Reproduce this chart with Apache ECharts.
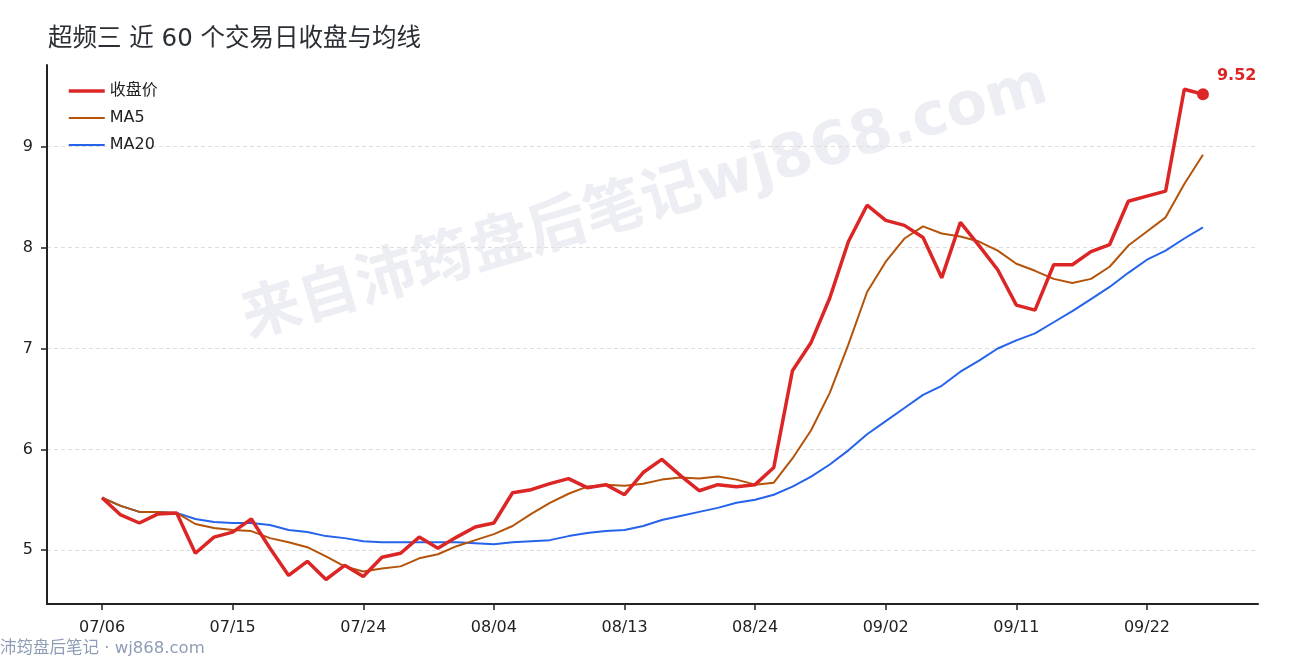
<!DOCTYPE html>
<html>
<head>
<meta charset="utf-8">
<title>超频三 近 60 个交易日收盘与均线</title>
<script src="https://cdn.jsdelivr.net/npm/echarts@6/dist/echarts.min.js"></script>
<style>
  html, body { margin: 0; padding: 0; background: #fff; }
  #chart { width: 1290px; height: 660px; }
</style>
</head>
<body>
<div id="chart"></div>
<script>
// 交易日 (2020)
var dates = [
  '07/06','07/07','07/08','07/09','07/10','07/13','07/14','07/15','07/16','07/17',
  '07/20','07/21','07/22','07/23','07/24','07/27','07/28','07/29','07/30','07/31',
  '08/03','08/04','08/05','08/06','08/07','08/10','08/11','08/12','08/13','08/14',
  '08/17','08/18','08/19','08/20','08/21','08/24','08/25','08/26','08/27','08/28',
  '08/31','09/01','09/02','09/03','09/04','09/07','09/08','09/09','09/10','09/11',
  '09/14','09/15','09/16','09/17','09/18','09/21','09/22','09/23','09/24','09/25'
]

var closePrice = [
  5.52, 5.35, 5.27, 5.36, 5.37, 4.97, 5.13, 5.18, 5.31, 5.02,
  4.75, 4.89, 4.71, 4.85, 4.74, 4.93, 4.97, 5.13, 5.02, 5.13,
  5.23, 5.27, 5.57, 5.60, 5.66, 5.71, 5.62, 5.65, 5.55, 5.77,
  5.90, 5.74, 5.59, 5.65, 5.63, 5.65, 5.82, 6.78, 7.06, 7.50,
  8.06, 8.42, 8.27, 8.22, 8.10, 7.70, 8.25, 8.02, 7.78, 7.43,
  7.38, 7.83, 7.83, 7.96, 8.03, 8.46, 8.51, 8.56, 9.57, 9.52
]

var ma5 = [
  5.52, 5.44, 5.38, 5.38, 5.37, 5.26, 5.22, 5.20, 5.19, 5.12,
  5.08, 5.03, 4.94, 4.84, 4.79, 4.82, 4.84, 4.92, 4.96, 5.04,
  5.10, 5.16, 5.24, 5.36, 5.47, 5.56, 5.63, 5.65, 5.64, 5.66,
  5.70, 5.72, 5.71, 5.73, 5.70, 5.65, 5.67, 5.91, 6.19, 6.56,
  7.04, 7.56, 7.86, 8.09, 8.21, 8.14, 8.11, 8.06, 7.97, 7.84,
  7.77, 7.69, 7.65, 7.69, 7.81, 8.02, 8.16, 8.30, 8.63, 8.92
]

var ma20 = [
  5.52, 5.44, 5.38, 5.38, 5.37, 5.31, 5.28, 5.27, 5.27, 5.25,
  5.20, 5.18, 5.14, 5.12, 5.09, 5.08, 5.08, 5.08, 5.08, 5.08,
  5.07, 5.06, 5.08, 5.09, 5.10, 5.14, 5.17, 5.19, 5.20, 5.24,
  5.30, 5.34, 5.38, 5.42, 5.47, 5.50, 5.55, 5.63, 5.73, 5.85,
  5.99, 6.15, 6.28, 6.41, 6.54, 6.63, 6.77, 6.88, 7.00, 7.08,
  7.15, 7.26, 7.37, 7.49, 7.61, 7.75, 7.88, 7.97, 8.09, 8.20
]

var xTicks = [0, 7, 14, 21, 28, 35, 42, 49, 56]
var yTicks = [5, 6, 7, 8, 9]

var font = '"DejaVu Sans", "Noto Sans CJK SC", sans-serif'

function pairs(arr) {
    return arr.map(function (v, i) { return [i, v] })
}

var last = closePrice.length - 1
var chart = echarts.init(document.getElementById('chart'))

var option = {
    backgroundColor: '#fff',
    animation: false,
    textStyle: { fontFamily: font },
    title: {
        text: '超频三 近 60 个交易日收盘与均线',
        left: 43,
        top: 22,
        textStyle: { fontSize: 24.5, fontWeight: 'normal', color: '#2a2e35', fontFamily: font }
    },
    graphic: [
        {
            type: 'text',
            x: 645, y: 204,
            rotation: 16.5 * Math.PI / 180,
            z: -10,
            silent: true,
            style: {
                text: '来自沛筠盘后笔记wj868.com',
                fontSize: 59.5, fontWeight: 'bold', fontFamily: font,
                fill: '#eceef3',
                align: 'center', verticalAlign: 'middle'
            }
        },
        {
            type: 'text',
            left: 0, top: 640,
            silent: true,
            style: {
                text: '沛筠盘后笔记 · wj868.com',
                fontSize: 16.5, fontFamily: font,
                fill: '#8e9db5'
            }
        }
    ],
    legend: {
        orient: 'vertical',
        left: 62,
        top: 78,
        itemWidth: 36,
        itemHeight: 14,
        itemGap: 11,
        itemStyle: { opacity: 0 },
        textStyle: { fontSize: 16, color: '#222', fontFamily: font },
        data: [
            { name: '收盘价', lineStyle: { width: 3.5 } },
            { name: 'MA5', lineStyle: { width: 2 } },
            { name: 'MA20', lineStyle: { width: 2 } }
        ]
    },
    grid: { left: 47, right: 32, top: 65, bottom: 56 },
    xAxis: {
        type: 'value',
        min: -2.95,
        max: last + 2.95,
        axisLine: { onZero: false, lineStyle: { color: '#222', width: 2 } },
        axisTick: { length: 6, lineStyle: { color: '#222', width: 1.5 }, customValues: xTicks },
        axisLabel: {
            customValues: xTicks,
            fontSize: 16, color: '#222', margin: 16,
            formatter: function (v) { return dates[Math.round(v)] }
        },
        splitLine: { show: false }
    },
    yAxis: {
        type: 'value',
        min: 4.467,
        max: 9.81,
        axisLine: { show: true, onZero: false, lineStyle: { color: '#222', width: 2 } },
        axisTick: { show: true, length: 6, lineStyle: { color: '#222', width: 1.5 }, customValues: yTicks },
        axisLabel: { customValues: yTicks, fontSize: 16, color: '#222', margin: 14 },
        splitLine: { show: true, lineStyle: { color: '#dedede', type: [4, 3], width: 1 } }
    },
    series: [
        {
            name: '收盘价',
            type: 'line',
            data: pairs(closePrice),
            symbol: 'none',
            color: '#dc2626',
            lineStyle: { width: 3.5, color: '#dc2626' },
            z: 5
        },
        {
            name: 'MA5',
            type: 'line',
            data: pairs(ma5),
            symbol: 'none',
            color: '#b45309',
            lineStyle: { width: 2, color: '#b45309' },
            z: 4
        },
        {
            name: 'MA20',
            type: 'line',
            data: pairs(ma20),
            symbol: 'none',
            color: '#2563eb',
            lineStyle: { width: 2, color: '#2563eb' },
            z: 3
        },
        {
            name: 'last',
            type: 'scatter',
            data: [[last, closePrice[last]]],
            symbolSize: 12,
            itemStyle: { color: '#dc2626', opacity: 1 },
            label: {
                show: true,
                position: 'right',
                distance: 7,
                offset: [1, -18],
                formatter: function (p) { return p.value[1].toFixed(2) },
                fontSize: 16, fontWeight: 'bold', color: '#dc2626', fontFamily: font
            },
            z: 6
        }
    ]
}

chart.setOption(option)
</script>
</body>
</html>
